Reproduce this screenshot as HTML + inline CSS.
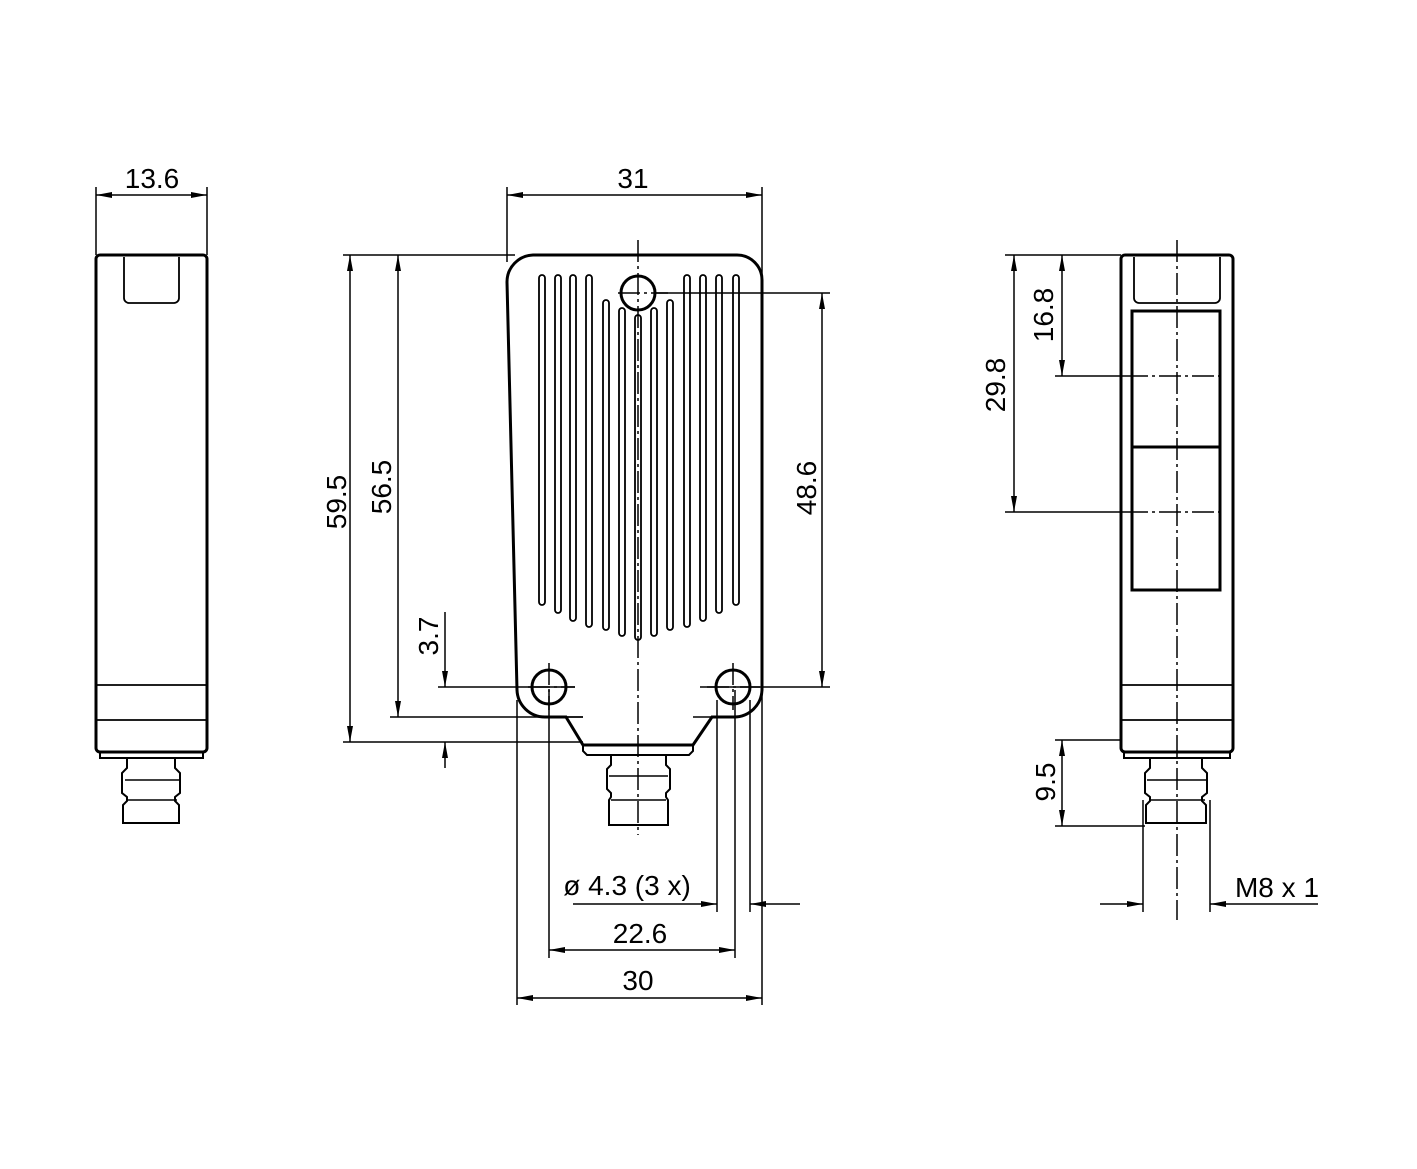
<!DOCTYPE html>
<html><head><meta charset="utf-8"><style>body{margin:0;background:#fff}svg{display:block}text{font-family:"Liberation Sans",sans-serif;font-size:28px;fill:#000}</style></head><body>
<svg width="1417" height="1169" viewBox="0 0 1417 1169" xmlns="http://www.w3.org/2000/svg">
<defs>
<marker id="a" viewBox="0 0 16 6" refX="16" refY="3" markerWidth="16" markerHeight="6" markerUnits="userSpaceOnUse" orient="auto-start-reverse"><path d="M0,0L16,3L0,6z" fill="#000"/></marker>
</defs>
<g fill="none" stroke="#000" stroke-width="1.5">
<line x1="96" y1="187" x2="96" y2="255"/><line x1="207" y1="187" x2="207" y2="255"/>
<line x1="96" y1="195" x2="207" y2="195" marker-start="url(#a)" marker-end="url(#a)"/>
<line x1="507" y1="187" x2="507" y2="262"/><line x1="762" y1="187" x2="762" y2="290"/>
<line x1="507" y1="195" x2="762" y2="195" marker-start="url(#a)" marker-end="url(#a)"/>
<line x1="343" y1="255" x2="515" y2="255"/><line x1="343" y1="742" x2="583" y2="742"/>
<line x1="350" y1="255" x2="350" y2="742" marker-start="url(#a)" marker-end="url(#a)"/>
<line x1="390" y1="717" x2="583" y2="717"/>
<line x1="398" y1="255" x2="398" y2="717" marker-start="url(#a)" marker-end="url(#a)"/>
<line x1="438" y1="687" x2="575" y2="687"/>
<line x1="445" y1="612" x2="445" y2="687" marker-end="url(#a)"/>
<line x1="445" y1="768" x2="445" y2="742" marker-end="url(#a)"/>
<line x1="655" y1="293" x2="830" y2="293"/><line x1="700" y1="687" x2="830" y2="687"/>
<line x1="822" y1="293" x2="822" y2="687" marker-start="url(#a)" marker-end="url(#a)"/>
<line x1="517" y1="700" x2="517" y2="1005"/><line x1="549" y1="690" x2="549" y2="958"/>
<line x1="717" y1="700" x2="717" y2="912"/><line x1="735" y1="690" x2="735" y2="958"/>
<line x1="750" y1="700" x2="750" y2="912"/><line x1="762" y1="690" x2="762" y2="1005"/>
<line x1="573" y1="904" x2="717" y2="904" marker-end="url(#a)"/>
<line x1="800" y1="904" x2="750" y2="904" marker-end="url(#a)"/>
<line x1="549" y1="950" x2="735" y2="950" marker-start="url(#a)" marker-end="url(#a)"/>
<line x1="517" y1="998" x2="762" y2="998" marker-start="url(#a)" marker-end="url(#a)"/>
<line x1="1005" y1="255" x2="1121" y2="255"/><line x1="1055" y1="376" x2="1126" y2="376"/><line x1="1005" y1="512" x2="1126" y2="512"/>
<line x1="1014" y1="255" x2="1014" y2="512" marker-start="url(#a)" marker-end="url(#a)"/>
<line x1="1062" y1="255" x2="1062" y2="376" marker-start="url(#a)" marker-end="url(#a)"/>
<line x1="1055" y1="740" x2="1121" y2="740"/><line x1="1055" y1="826" x2="1145" y2="826"/>
<line x1="1062" y1="740" x2="1062" y2="826" marker-start="url(#a)" marker-end="url(#a)"/>
<line x1="1143" y1="800" x2="1143" y2="912"/><line x1="1210" y1="800" x2="1210" y2="912"/>
<line x1="1100" y1="904" x2="1143" y2="904" marker-end="url(#a)"/>
<line x1="1318" y1="904" x2="1210" y2="904" marker-end="url(#a)"/>
</g>
<g fill="none" stroke="#000" stroke-width="3">
<rect x="96" y="255" width="111" height="497" rx="4"/>
<path d="M124,257V298a5,5 0 0 0 5,5H174a5,5 0 0 0 5-5V257" stroke-width="1.8"/>
<line x1="97" y1="685" x2="206" y2="685" stroke-width="1.8"/><line x1="97" y1="720" x2="206" y2="720" stroke-width="1.8"/>
<path d="M100,752v6h103v-6" stroke-width="2"/>
<path d="M127,758v10l-5,5v20l5,4v4l-4,4v18h56v-18l-4-4v-4l5-4v-20l-5-5v-10" stroke-width="2"/>
<line x1="125" y1="780" x2="179" y2="780" stroke-width="1.5"/><line x1="127" y1="800" x2="177" y2="800" stroke-width="1.5"/>
<path d="M533,255H737a25,25 0 0 1 25,25V690a28,28 0 0 1-28,27H712L693,745H583L566,717H545a28,28 0 0 1-28-27L507,282a27,27 0 0 1 26-27z"/>
<line x1="545" y1="717" x2="583" y2="717" stroke-width="1.5"/><line x1="693" y1="717" x2="730" y2="717" stroke-width="1.5"/>
<path d="M583,745v6l4,4h102l4-4v-6" stroke-width="2"/>
<path d="M611,755v10l-4,4v20l4,4v4l-2,3v25h59v-25l-2-3v-4l4-4v-20l-4-4v-10" stroke-width="2"/>
<line x1="609" y1="776" x2="668" y2="776" stroke-width="1.5"/><line x1="611" y1="800" x2="666" y2="800" stroke-width="1.5"/>
<circle cx="638" cy="293" r="17"/><circle cx="549" cy="687" r="17"/><circle cx="733" cy="687" r="17"/>
</g>
<g fill="none" stroke="#000" stroke-width="1.8">
<rect x="539" y="275" width="6" height="330" rx="3"/><rect x="555" y="275" width="6" height="338" rx="3"/><rect x="570" y="275" width="6" height="346" rx="3"/><rect x="586" y="275" width="6" height="352" rx="3"/>
<rect x="603" y="300" width="6" height="330" rx="3"/><rect x="619" y="308" width="6" height="328" rx="3"/><rect x="635" y="315" width="6" height="325" rx="3"/><rect x="651" y="308" width="6" height="328" rx="3"/><rect x="667" y="300" width="6" height="330" rx="3"/>
<rect x="684" y="275" width="6" height="352" rx="3"/><rect x="700" y="275" width="6" height="346" rx="3"/><rect x="716" y="275" width="6" height="338" rx="3"/><rect x="733" y="275" width="6" height="330" rx="3"/>
</g>
<g stroke="#000" stroke-width="1.5" stroke-dasharray="22,4,3,4">
<line x1="638" y1="240" x2="638" y2="835"/><line x1="618" y1="293" x2="668" y2="293"/>
<line x1="528" y1="687" x2="575" y2="687"/><line x1="707" y1="687" x2="760" y2="687"/>
<line x1="549" y1="663" x2="549" y2="710"/><line x1="733" y1="663" x2="733" y2="710"/>
<line x1="1177" y1="240" x2="1177" y2="920"/>
<line x1="1126" y1="376" x2="1224" y2="376"/><line x1="1126" y1="512" x2="1224" y2="512"/>
</g>
<g fill="none" stroke="#000" stroke-width="3">
<rect x="1121" y="255" width="112" height="497" rx="4"/>
<path d="M1134,257V298a5,5 0 0 0 5,5H1215a5,5 0 0 0 5-5V257" stroke-width="1.8"/>
<rect x="1132" y="311" width="88" height="279"/><line x1="1132" y1="447" x2="1220" y2="447"/>
<line x1="1122" y1="685" x2="1232" y2="685" stroke-width="1.8"/><line x1="1122" y1="720" x2="1232" y2="720" stroke-width="1.8"/>
<path d="M1124,752v6h106v-6" stroke-width="2"/>
<path d="M1150,758v10l-5,5v20l5,4v4l-4,4v18h60v-18l-4-4v-4l5-4v-20l-5-5v-10" stroke-width="2"/>
<line x1="1147" y1="780" x2="1207" y2="780" stroke-width="1.5"/><line x1="1149" y1="800" x2="1205" y2="800" stroke-width="1.5"/>
</g>
<text x="152" y="188" text-anchor="middle">13.6</text>
<text x="633" y="188" text-anchor="middle">31</text>
<text x="627" y="895" text-anchor="middle">ø 4.3 (3 x)</text>
<text x="640" y="943" text-anchor="middle">22.6</text>
<text x="638" y="990" text-anchor="middle">30</text>
<text x="1277" y="897" text-anchor="middle">M8 x 1</text>
<text transform="translate(346,502) rotate(-90)" text-anchor="middle">59.5</text>
<text transform="translate(391,487) rotate(-90)" text-anchor="middle">56.5</text>
<text transform="translate(438,636) rotate(-90)" text-anchor="middle">3.7</text>
<text transform="translate(816,488) rotate(-90)" text-anchor="middle">48.6</text>
<text transform="translate(1005,385) rotate(-90)" text-anchor="middle">29.8</text>
<text transform="translate(1053,315) rotate(-90)" text-anchor="middle">16.8</text>
<text transform="translate(1055,782) rotate(-90)" text-anchor="middle">9.5</text>
</svg>
</body></html>
